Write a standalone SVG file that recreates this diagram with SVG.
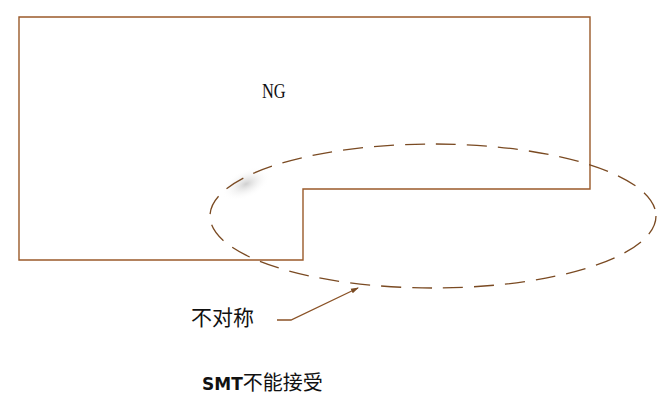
<svg xmlns="http://www.w3.org/2000/svg" width="658" height="404" viewBox="0 0 658 404">
<style>
.shape{fill:none;stroke:#9a5a2a;stroke-width:1.4}
.oval{fill:none;stroke:#7a4a22;stroke-width:1.3;stroke-dasharray:20 11}
.lead{fill:none;stroke:#8a5226;stroke-width:1.3}
.t{font-family:"Noto Sans CJK SC","Liberation Sans",sans-serif;fill:#111}
</style>
<defs>
<radialGradient id="smudge" cx="0.5" cy="0.5" r="0.5">
<stop offset="0" stop-color="#b0b0b0" stop-opacity="0.6"/>
<stop offset="1" stop-color="#ffffff" stop-opacity="0"/>
</radialGradient>
<marker id="ah" markerWidth="8" markerHeight="6" refX="7" refY="3" orient="auto" markerUnits="userSpaceOnUse">
<path d="M0,0.5 L8,3 L0,5.5 Z" fill="#7a4a22"/>
</marker>
</defs>
<rect width="658" height="404" fill="#ffffff"/>
<g id="board">
<path class="shape" d="M19,17 H590 V189 H303 V260 H19 Z"/>
<text x="0" y="0" transform="translate(262,98) scale(0.82,1)" style="font-family:'Liberation Serif',serif" font-size="20" fill="#111">NG</text>
</g>
<ellipse cx="246" cy="184" rx="26" ry="14" fill="url(#smudge)" transform="rotate(-25 246 184)"/>
<g id="highlight">
<ellipse class="oval" cx="433" cy="216" rx="223" ry="72"/>
</g>
<g id="connectors">
<path class="lead" d="M277,320 H291 L358,288" marker-end="url(#ah)"/>
</g>
<g id="label-asym">
<text class="t" x="191" y="325" font-size="21">不对称</text>
</g>
<g id="caption">
<text class="t" x="202" y="390" font-size="20"><tspan font-weight="bold" font-size="17" style="font-family:'DejaVu Sans',sans-serif">SMT</tspan>不能接受</text>
</g>
</svg>
